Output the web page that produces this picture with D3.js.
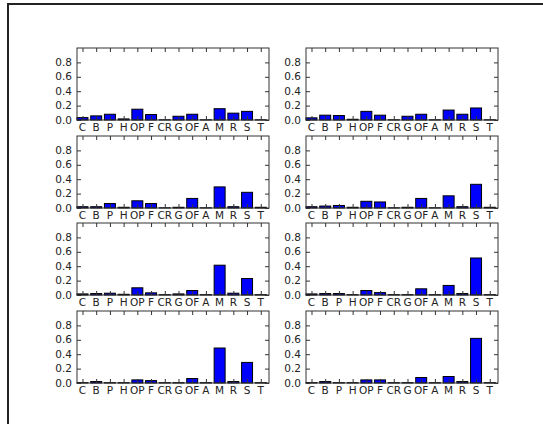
<!DOCTYPE html>
<html>
<head>
<meta charset="utf-8">
<script src="https://cdn.jsdelivr.net/npm/d3@7"></script>
<style>
  body { margin: 0; background: #fff; }
  text { font-family: "DejaVu Sans", sans-serif; }
</style>
</head>
<body>
<script>
// categories along every x axis
var categories = ["C", "B", "P", "H", "OP", "F", "CR", "G", "OF", "A", "M", "R", "S", "T"];
var yTicks = [0, 0.2, 0.4, 0.6, 0.8];

// one array per panel, read row by row (left, right)
var panel1 = [0.033, 0.057, 0.08, 0.015, 0.15, 0.076, 0.003, 0.052, 0.08, 0.003, 0.157, 0.095, 0.12, 0.003];
var panel2 = [0.03, 0.067, 0.062, 0.01, 0.12, 0.067, 0.003, 0.052, 0.08, 0.003, 0.138, 0.08, 0.167, 0.003];
var panel3 = [0.018, 0.018, 0.062, 0.01, 0.1, 0.062, 0.003, 0.01, 0.133, 0.003, 0.293, 0.018, 0.218, 0.01];
var panel4 = [0.018, 0.027, 0.035, 0.01, 0.093, 0.084, 0.003, 0.01, 0.133, 0.003, 0.169, 0.018, 0.329, 0.01];
var panel5 = [0.015, 0.02, 0.025, 0.01, 0.1, 0.03, 0.005, 0.015, 0.062, 0.005, 0.414, 0.025, 0.229, 0.005];
var panel6 = [0.015, 0.02, 0.02, 0.005, 0.062, 0.033, 0.005, 0.005, 0.086, 0.005, 0.133, 0.02, 0.514, 0.005];
var panel7 = [0.005, 0.02, 0.005, 0.005, 0.043, 0.033, 0.005, 0.005, 0.062, 0.005, 0.486, 0.02, 0.286, 0.005];
var panel8 = [0.005, 0.02, 0.005, 0.005, 0.043, 0.043, 0.005, 0.005, 0.076, 0.005, 0.09, 0.02, 0.62, 0.005];
var panels = [panel1, panel2, panel3, panel4, panel5, panel6, panel7, panel8];

var W = 543, H = 424;
var colX = [77, 306];
var rowY = [48, 136, 223, 311];
var pw = 192, ph = 72;

var svg = d3.select("body").append("svg")
  .attr("width", W)
  .attr("height", H);

svg.append("rect").attr("width", W).attr("height", H).attr("fill", "#fff");

// outer frame (runs off the right and bottom)
svg.append("rect")
  .attr("x", 8).attr("y", 4)
  .attr("width", 600).attr("height", 500)
  .attr("fill", "none")
  .attr("stroke", "#222")
  .attr("stroke-width", 2);

var x = d3.scaleLinear().domain([0, categories.length]).range([0, pw]);
var y = d3.scaleLinear().domain([0, 1]).range([ph, 0]);

panels.forEach(function(vals, k) {
  var g = svg.append("g")
    .attr("transform", "translate(" + colX[k % 2] + "," + rowY[Math.floor(k / 2)] + ")");

  g.selectAll("rect.bar")
    .data(vals)
    .enter()
    .append("rect")
    .attr("class", "bar")
    .attr("x", function(d, i) { return x(i); })
    .attr("y", function(d) { return y(d); })
    .attr("width", x(0.8) - x(0))
    .attr("height", function(d) { return y(0) - y(d); })
    .attr("fill", "#0000ff")
    .attr("stroke", "#000")
    .attr("stroke-width", 1);

  // ticks inward on all sides
  var tickPos = categories.map(function(c, i) { return i + 0.4; });
  g.append("g").attr("transform", "translate(0," + ph + ")")
    .call(d3.axisTop(x).tickValues(tickPos).tickSize(4).tickFormat(""))
    .call(function(a) { a.select(".domain").remove(); });
  g.append("g")
    .call(d3.axisBottom(x).tickValues(tickPos).tickSize(4).tickFormat(""))
    .call(function(a) { a.select(".domain").remove(); });
  g.append("g")
    .call(d3.axisRight(y).tickValues(yTicks).tickSize(4).tickFormat(""))
    .call(function(a) { a.select(".domain").remove(); });
  g.append("g").attr("transform", "translate(" + pw + ",0)")
    .call(d3.axisLeft(y).tickValues(yTicks).tickSize(4).tickFormat(""))
    .call(function(a) { a.select(".domain").remove(); });
  g.selectAll(".tick line").attr("stroke", "#333");

  g.append("rect")
    .attr("width", pw).attr("height", ph)
    .attr("fill", "none")
    .attr("stroke", "#333")
    .attr("stroke-width", 1);

  // y tick labels
  g.selectAll("text.ylab")
    .data(yTicks)
    .enter()
    .append("text")
    .attr("class", "ylab")
    .attr("x", -5)
    .attr("y", function(d) { return y(d); })
    .attr("dy", "0.35em")
    .attr("text-anchor", "end")
    .attr("font-size", 10.5)
    .attr("fill", "#222")
    .text(function(d) { return d3.format(".1f")(d); });

  // x tick labels
  g.selectAll("text.xlab")
    .data(categories)
    .enter()
    .append("text")
    .attr("class", "xlab")
    .attr("x", function(d, i) { return x(i + 0.4); })
    .attr("y", ph + 11)
    .attr("text-anchor", "middle")
    .attr("font-size", 10.5)
    .attr("fill", "#222")
    .text(function(d) { return d; });
});
</script>
</body>
</html>
